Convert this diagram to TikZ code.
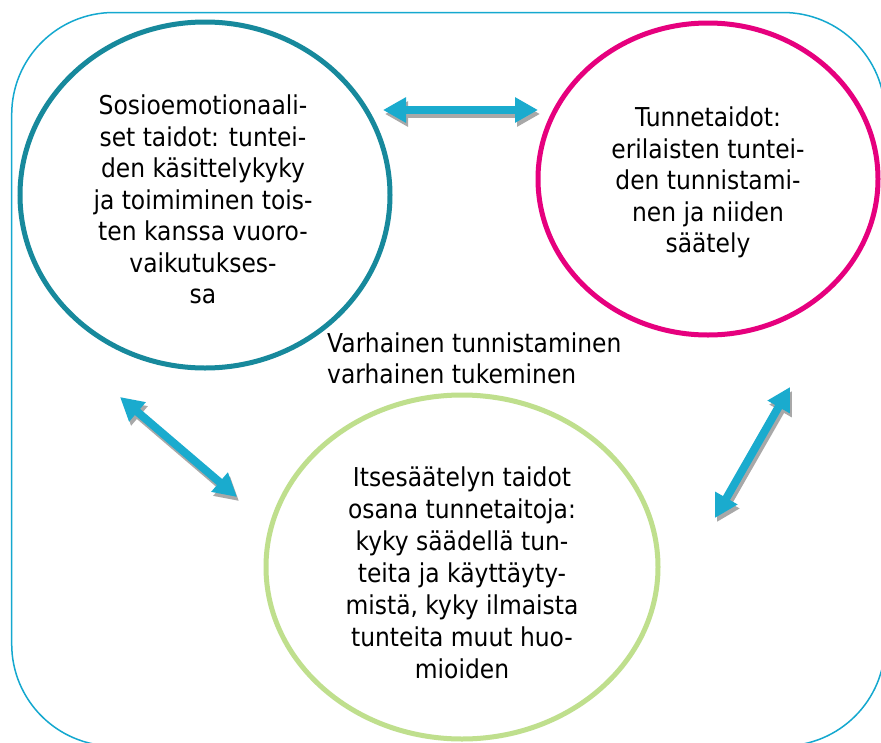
\documentclass[tikz,border=0pt]{standalone}
\usepackage{fontspec}
\setmainfont{DejaVu Sans}[FakeStretch=0.9]
\usetikzlibrary{arrows.meta}
\definecolor{tealc}{HTML}{17899C}
\definecolor{magc}{HTML}{E6007E}
\definecolor{greenc}{HTML}{BFDF8D}
\definecolor{outerc}{HTML}{14A8CF}
\definecolor{arrc}{HTML}{1AABCE}
\definecolor{shadc}{HTML}{A8A8A8}
\begin{document}
\begin{tikzpicture}[x=1pt,y=-1pt,
  ring/.style={line width=5pt},
  label/.style={align=center,inner sep=0pt,font=\fontsize{26}{31.5}\selectfont},
  bigarrow/.style={line width=8pt,arrc,{Triangle[length=23pt,width=24pt]}-{Triangle[length=23pt,width=24pt]}},
  arrowshadow/.style={line width=8pt,shadc,{Triangle[length=23pt,width=24pt]}-{Triangle[length=23pt,width=24pt]},transform canvas={shift={(2pt,-4pt)}}}
]
\useasboundingbox (0,0) rectangle (881,742);
\fill[white] (0,0) rectangle (881,742);
\clip (0,0) rectangle (881,742);
% outer frame
\draw[outerc,line width=1.5pt,rounded corners=102pt] (11.7,12.5) rectangle (885,746);
% circles
\coordinate (cT) at (205,195);
\coordinate (cM) at (708,179);
\coordinate (cG) at (462,567);
\draw[ring,tealc] (cT) ellipse [x radius=185,y radius=173];
\draw[ring,magc] (cM) ellipse [x radius=170,y radius=156];
\draw[ring,greenc] (cG) ellipse [x radius=196,y radius=172];
% texts
\node[label] (tT) at (203,202.75) {\strut Sosioemotionaali-\\\strut set taidot: tuntei-\\\strut den käsittelykyky\\\strut ja toimiminen tois-\\\strut ten kanssa vuoro-\\\strut vaikutukses-\\\strut sa};
\node[label] (tM) at (708,183.25) {\strut Tunnetaidot:\\\strut erilaisten tuntei-\\\strut den tunnistami-\\\strut nen ja niiden\\\strut säätely};
\node[label,font=\fontsize{26}{32}\selectfont] (tG) at (462,575.75) {\strut Itsesäätelyn taidot\\\strut osana tunnetaitoja:\\\strut kyky säädellä tun-\\\strut teita ja käyttäyty-\\\strut mistä, kyky ilmaista\\\strut tunteita muut huo-\\\strut mioiden};
\node[label,align=left,anchor=north west,font=\fontsize{26}{31}\selectfont] (tV) at (327,330.3) {\strut Varhainen tunnistaminen\\\strut varhainen tukeminen};
% arrows
\coordinate (a1) at (383,110);
\coordinate (a2) at (538,110);
\coordinate (b1) at (120,397);
\coordinate (b2) at (237,497);
\coordinate (c1) at (790,387);
\coordinate (c2) at (715,518);
\draw[arrowshadow] (a1) -- (a2);
\draw[arrowshadow] (b1) -- (b2);
\draw[arrowshadow] (c1) -- (c2);
\draw[bigarrow] (a1) -- (a2);
\draw[bigarrow] (b1) -- (b2);
\draw[bigarrow] (c1) -- (c2);
\end{tikzpicture}
\end{document}
